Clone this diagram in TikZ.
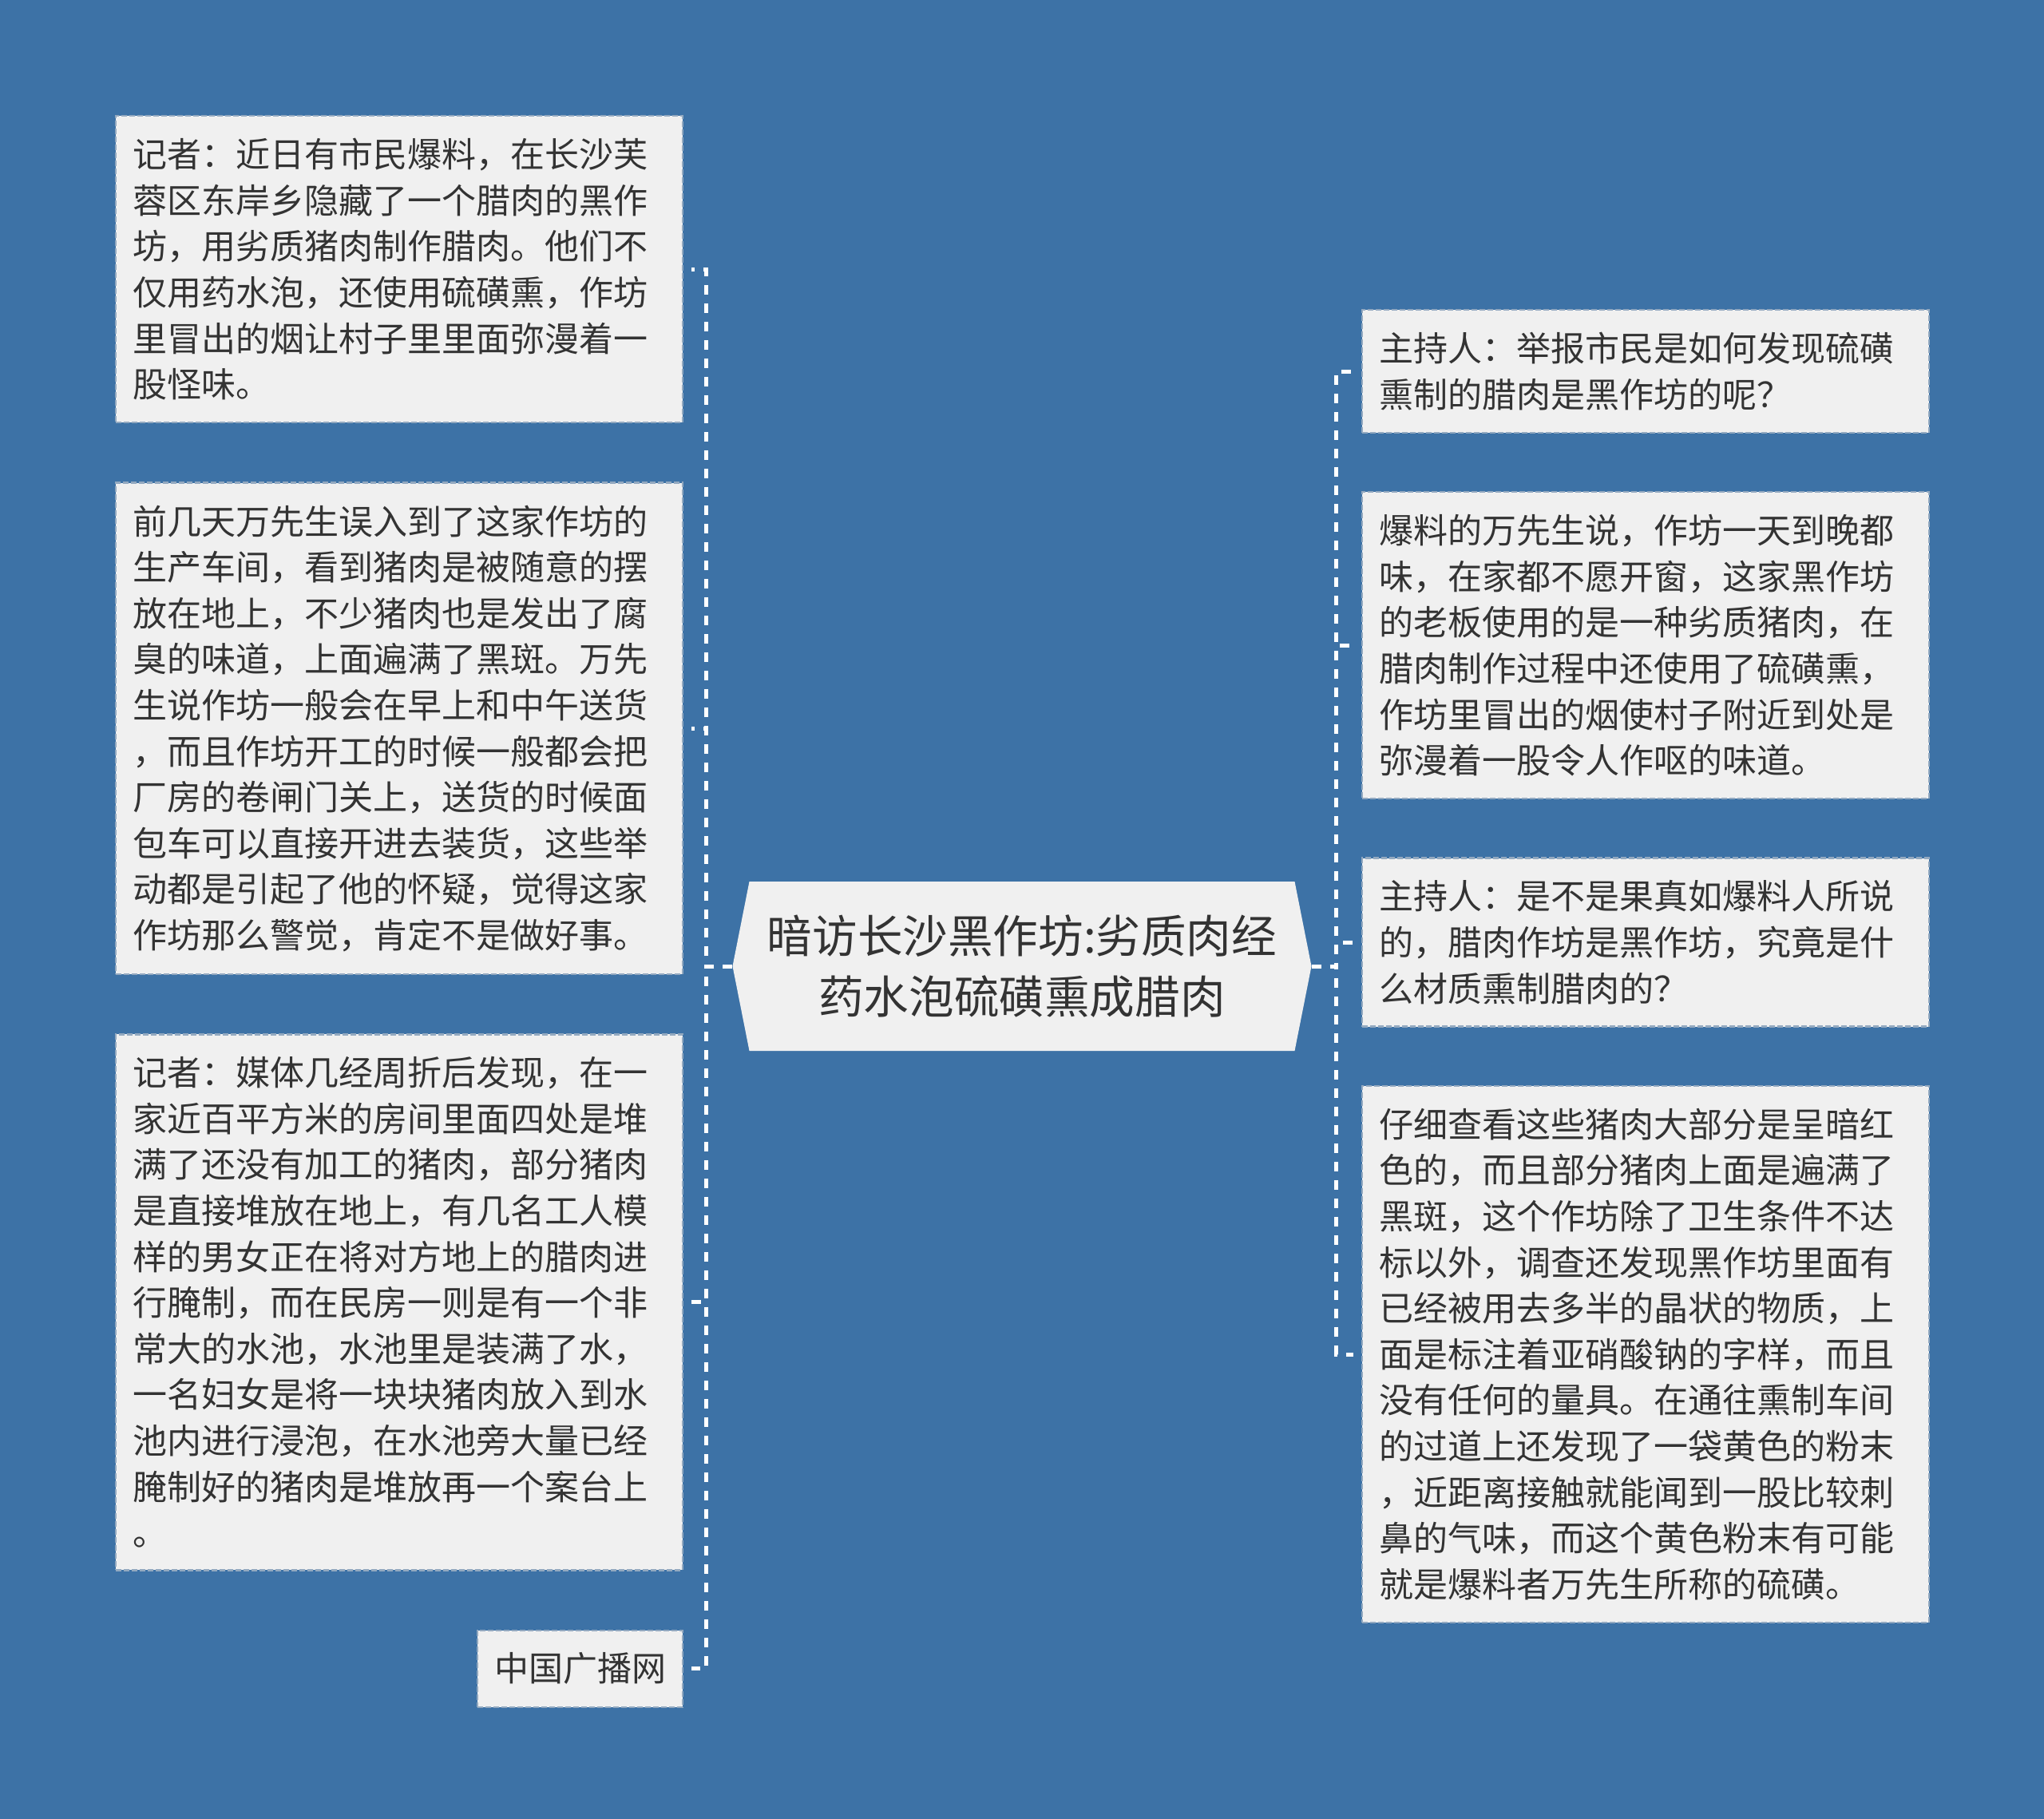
\documentclass[tikz,border=0pt]{standalone}
\usepackage{fontspec}
\setmainfont{Noto Sans CJK SC}
\usetikzlibrary{positioning}

\definecolor{bgblue}{HTML}{3D72A6}
\definecolor{panel}{HTML}{F0F0F0}
\definecolor{edge}{HTML}{93A9C0}
\definecolor{ink}{HTML}{333333}

\begin{document}
\begin{tikzpicture}[node distance=36.5pt]

	\tikzstyle{note} = [rectangle, fill=panel, draw=edge, line width=1.2pt, dash pattern=on 3.5pt off 1.5pt, text=ink, align=left, inner xsep=10.5pt, inner ysep=14pt, font=\fontsize{21.5pt}{28.8pt}\selectfont]
	\tikzstyle{longnote} = [note, text width=334pt]
	\tikzstyle{topicbox} = [rectangle, fill=bgblue, inner sep=0pt, minimum width=362.5pt, minimum height=106pt, text=ink, align=center, font=\fontsize{28.3pt}{38pt}\selectfont,
		path picture={\fill[panel] ([xshift=10.5pt]path picture bounding box.north west) -- (path picture bounding box.west) -- ([xshift=10.5pt]path picture bounding box.south west) -- ([xshift=-10.5pt]path picture bounding box.south east) -- (path picture bounding box.east) -- ([xshift=-10.5pt]path picture bounding box.north east) -- cycle;}]
	\tikzstyle{link} = [white, line width=2.5pt, dash pattern=on 6pt off 5.5pt]

	\fill[bgblue] (0,0) rectangle (1280pt,-1139pt);

	% Nodes
	\node (topic) [topicbox] at (640pt,-605pt) {暗访长沙黑作坊:劣质肉经\\药水泡硫磺熏成腊肉};

	\node (b1) [longnote, anchor=north west] at (72pt,-72pt) {记者：近日有市民爆料，在长沙芙\\蓉区东岸乡隐藏了一个腊肉的黑作\\坊，用劣质猪肉制作腊肉。他们不\\仅用药水泡，还使用硫磺熏，作坊\\里冒出的烟让村子里里面弥漫着一\\股怪味。};
	\node (b2) [longnote, below=of b1] {前几天万先生误入到了这家作坊的\\生产车间，看到猪肉是被随意的摆\\放在地上，不少猪肉也是发出了腐\\臭的味道，上面遍满了黑斑。万先\\生说作坊一般会在早上和中午送货\\，而且作坊开工的时候一般都会把\\厂房的卷闸门关上，送货的时候面\\包车可以直接开进去装货，这些举\\动都是引起了他的怀疑，觉得这家\\作坊那么警觉，肯定不是做好事。};
	\node (b3) [longnote, below=of b2] {记者：媒体几经周折后发现，在一\\家近百平方米的房间里面四处是堆\\满了还没有加工的猪肉，部分猪肉\\是直接堆放在地上，有几名工人模\\样的男女正在将对方地上的腊肉进\\行腌制，而在民房一则是有一个非\\常大的水池，水池里是装满了水，\\一名妇女是将一块块猪肉放入到水\\池内进行浸泡，在水池旁大量已经\\腌制好的猪肉是堆放再一个案台上\\。};
	\node (b4) [note, below=of b3.south east, anchor=north east] {中国广播网};

	\node (r1) [longnote, anchor=north west] at (852.5pt,-193.5pt) {主持人：举报市民是如何发现硫磺\\熏制的腊肉是黑作坊的呢？};
	\node (r2) [longnote, below=36pt of r1] {爆料的万先生说，作坊一天到晚都\\味，在家都不愿开窗，这家黑作坊\\的老板使用的是一种劣质猪肉，在\\腊肉制作过程中还使用了硫磺熏，\\作坊里冒出的烟使村子附近到处是\\弥漫着一股令人作呕的味道。};
	\node (r3) [longnote, below=36pt of r2] {主持人：是不是果真如爆料人所说\\的，腊肉作坊是黑作坊，究竟是什\\么材质熏制腊肉的？};
	\node (r4) [longnote, below=36pt of r3] {仔细查看这些猪肉大部分是呈暗红\\色的，而且部分猪肉上面是遍满了\\黑斑，这个作坊除了卫生条件不达\\标以外，调查还发现黑作坊里面有\\已经被用去多半的晶状的物质，上\\面是标注着亚硝酸钠的字样，而且\\没有任何的量具。在通往熏制车间\\的过道上还发现了一袋黄色的粉末\\，近距离接触就能闻到一股比较刺\\鼻的气味，而这个黄色粉末有可能\\就是爆料者万先生所称的硫磺。};

	% Lines
	\draw [link] (topic.west) -- ++(-16.5pt,0) |- ([xshift=5pt]b1.east);
	\draw [link] (topic.west) -- ++(-16.5pt,0) |- ([xshift=5pt]b2.east);
	\draw [link] (topic.west) -- ++(-16.5pt,0) |- ([xshift=5pt]b3.east);
	\draw [link] (topic.west) -- ++(-16.5pt,0) |- ([xshift=5pt]b4.east);
	\draw [link] (topic.east) -- ++(15.5pt,0) |- ([xshift=-5pt]r1.west);
	\draw [link] (topic.east) -- ++(15.5pt,0) |- ([xshift=-5pt]r2.west);
	\draw [link] (topic.east) -- ++(15.5pt,0) |- ([xshift=-5pt]r3.west);
	\draw [link] (topic.east) -- ++(15.5pt,0) |- ([xshift=-5pt]r4.west);

\end{tikzpicture}
\end{document}
